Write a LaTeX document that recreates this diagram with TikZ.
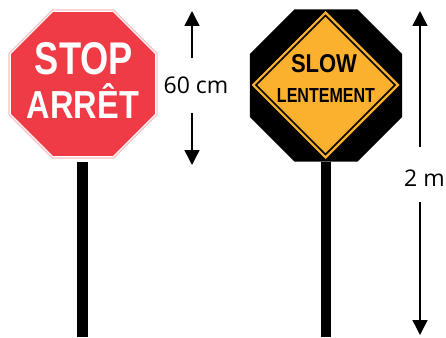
\documentclass[tikz,border=0pt]{standalone}
\usepackage{fontspec}
\setmainfont{Liberation Sans}
\newfontfamily\labelfont{Open Sans}
\usetikzlibrary{arrows.meta}
\definecolor{stopred}{HTML}{EE3B46}
\definecolor{stoppink}{HTML}{F6C3C6}
\definecolor{slowyel}{HTML}{FBB02E}
\tikzset{
  dimarrow/.style={line width=1.5pt,-{Triangle[width=15pt,length=15pt]}},
  pole/.style={fill=black,draw=none},
  signtext/.style={inner sep=0pt,outer sep=0pt},
  dimlabel/.style={font=\labelfont\fontsize{23}{25}\selectfont,inner sep=0pt}
}
\begin{document}
\begin{tikzpicture}[x=1pt,y=-1pt]
\useasboundingbox (0,0) rectangle (446,337);
% ---------- STOP sign ----------
\fill[pole] (77,162) rectangle (88,337);
\draw[stoppink,line width=1.2pt,fill=white,shift={(83,84)}]
  (22.5:80.1) -- (67.5:80.1) -- (112.5:80.1) -- (157.5:80.1) -- (202.5:80.1)
  -- (247.5:80.1) -- (292.5:80.1) -- (337.5:80.1) -- cycle;
\fill[stopred,shift={(83,84)}]
  (22.5:77.9) -- (67.5:77.9) -- (112.5:77.9) -- (157.5:77.9) -- (202.5:77.9)
  -- (247.5:77.9) -- (292.5:77.9) -- (337.5:77.9) -- cycle;
\node[signtext,text=white] (stop) at (84,59)
  {\resizebox{98pt}{32pt}{\bfseries STOP}};
\node[signtext,text=white] (arret) at (83,100.5)
  {\resizebox{112pt}{35pt}{\bfseries ARRÊT}};
% ---------- SLOW sign ----------
\fill[pole] (321,162) rectangle (330.5,337);
\fill[black,shift={(326,85.5)}]
  (22.5:82.3) -- (67.5:82.3) -- (112.5:82.3) -- (157.5:82.3) -- (202.5:82.3)
  -- (247.5:82.3) -- (292.5:82.3) -- (337.5:82.3) -- cycle;
\fill[slowyel,shift={(325.5,85)}] (0,-74) -- (74,0) -- (0,74) -- (-74,0) -- cycle;
\draw[black,line width=1.6pt,fill=slowyel,shift={(325.5,85)}]
  (0,-69.5) -- (69.5,0) -- (0,69.5) -- (-69.5,0) -- cycle;
\node[signtext] (slow) at (324,64) {\resizebox{66pt}{18pt}{\bfseries SLOW}};
\node[signtext] (lent) at (326,95) {\resizebox{98pt}{14pt}{\bfseries LENTEMENT}};
% ---------- dimensions ----------
\node[dimlabel] (l60) at (196,85) {60 cm};
\coordinate (a60top) at (192,11);
\coordinate (a60bot) at (192,165);
\coordinate (a60s) at (192,58);
\coordinate (a60e) at (192,113);
\draw[dimarrow] (a60s) -- (a60top);
\draw[dimarrow] (a60e) -- (a60bot);
\node[dimlabel] (l2) at (424.5,178) {2 m};
\coordinate (a2top) at (420,11);
\coordinate (a2bot) at (420,335);
\coordinate (a2s) at (420,147);
\coordinate (a2e) at (420,202);
\draw[dimarrow] (a2s) -- (a2top);
\draw[dimarrow] (a2e) -- (a2bot);
\end{tikzpicture}
\end{document}
